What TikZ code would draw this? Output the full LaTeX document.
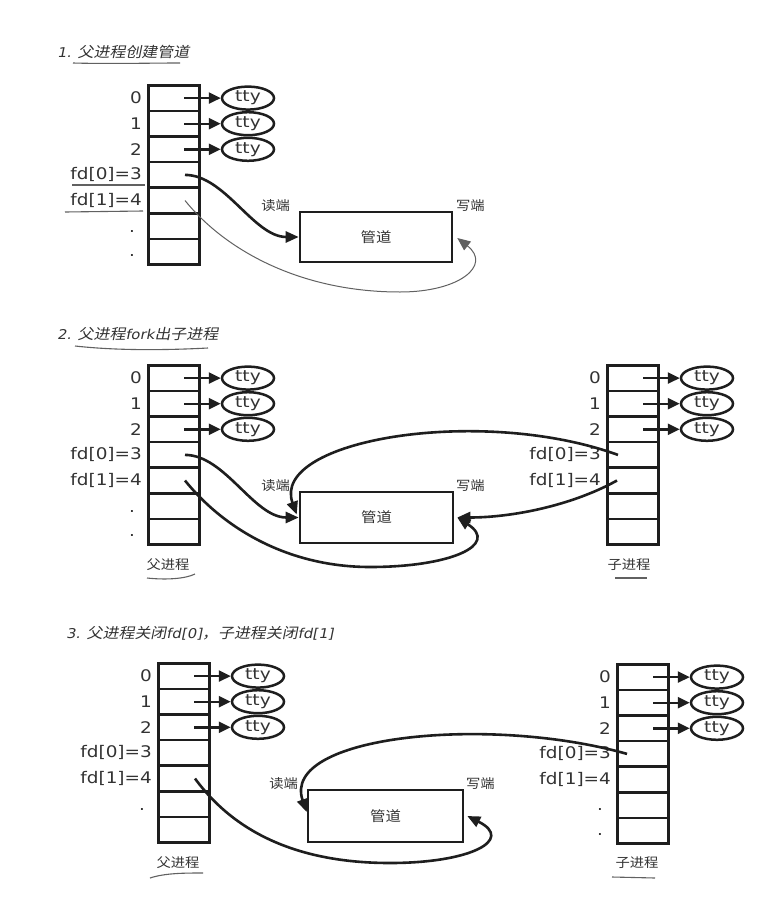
\documentclass[tikz,border=0pt]{standalone}
\usepackage{fontspec}
\usetikzlibrary{arrows.meta,shapes.geometric,calc}
\newfontfamily\labfont{DejaVu Sans}[FakeStretch=1.15]
\newfontfamily\ttyfont{DejaVu Sans}[FakeStretch=1.2]
\newfontfamily\titlefont{DejaVu Sans}[FakeStretch=1.1,FakeSlant=0.2]
\newfontfamily\cjkfont{Noto Sans CJK SC}[FakeStretch=1.1]
\newfontfamily\cjkitfont{Noto Sans CJK SC}[FakeStretch=1.1,FakeSlant=0.2]
\definecolor{ink}{HTML}{1E1E1E}
\definecolor{txt}{HTML}{333333}
\tikzset{
  cell/.style={draw=ink, line width=2.6pt, minimum width=51pt, minimum height=25.6pt, inner sep=0pt, anchor=north west},
  ttynode/.style={draw=ink, ellipse, line width=2.5pt, minimum width=52pt, minimum height=23pt, inner sep=0pt, font=\ttyfont\fontsize{15.5}{15.5}\selectfont, text=txt},
  lab/.style={anchor=east, inner sep=0pt, font=\labfont\fontsize{16}{16}\selectfont, text=txt},
  dotlab/.style={anchor=base, inner sep=0pt, font=\labfont\fontsize{16}{16}\selectfont, text=txt},
  pipebox/.style={draw=ink, line width=2.6pt, inner sep=0pt, font=\cjkfont\fontsize{14}{14}\selectfont, text=txt},
  cjklab/.style={font=\cjkfont\fontsize{13}{13}\selectfont, text=txt, inner sep=0pt},
  ttyarrow/.style={draw=ink, line width=2.4pt, -{Triangle[length=12pt,width=11pt]}},
  conn/.style={draw=ink, line width=2.6pt, -{Triangle[length=13pt,width=11pt]}},
  thinconn/.style={draw=ink!70, line width=1pt, -{Triangle[length=13pt,width=11pt]}},
  titlenode/.style={anchor=west, inner sep=0pt, text=txt},
  hand/.style={draw=ink!70, line width=1.1pt},
}
\newcommand\ttl{\titlefont\fontsize{13.5}{13.5}\selectfont}
\newcommand\ttlcjk{\cjkitfont\fontsize{14.5}{14.5}\selectfont}
% table with three tty entries: #1 name prefix, #2 left x, #3 top y
\newcommand\fdtab[3]{%
  \foreach \i in {0,...,6}{\node[cell] (#1\i) at (#2,{#3+25.6*\i}) {};}
  \foreach \i in {0,1,2}{%
    \node[ttynode] (#1t\i) at ($(#1\i.west)+(101,0)$) {tty};
    \draw[ttyarrow] ([xshift=37pt]#1\i.west) -- (#1t\i);
    \node[lab] (#1l\i) at ([xshift=-5pt]#1\i.west) {\i};
  }
  \node[lab] (#1l3) at ([xshift=-5pt]#13.west) {fd[0]=3};
  \node[lab] (#1l4) at ([xshift=-5pt]#14.west) {fd[1]=4};
}
\begin{document}
\begin{tikzpicture}[x=1pt,y=-1pt]
\useasboundingbox (0,0) rectangle (769,897);
\fill[white] (0,0) rectangle (769,897);

% ---------------- panel 1 ----------------
\node[titlenode] (t1) at (57,52) {{\ttl 1. }{\ttlcjk 父进程创建管道}};
\draw[hand] (73,63) .. controls (110,64) and (150,63) .. (180,63);
\fdtab{a}{147}{84}
\node[dotlab] (ad5) at ([shift={(-15,6)}]a5.west) {.};
\node[dotlab] (ad6) at ([shift={(-15,5)}]a6.west) {.};
\draw[hand] (72,185) -- (145,185);
\draw[hand] (65,212) -- (143,211);
\node[pipebox, minimum width=152pt, minimum height=50pt] (pipeA) at (376,237) {管道};
\node[cjklab] (rA) at ([shift={(-23,-5)}]pipeA.north west) {读端};
\node[cjklab] (wA) at ([shift={(17,-5)}]pipeA.north east) {写端};
\draw[conn] ([xshift=38pt]a3.west) .. controls +(40,0) and +(-45,0) .. (pipeA.west);
\draw[thinconn] ([xshift=38pt]a4.west) .. controls (225,250) and (300,292) .. (400,292)
   .. controls (460,292) and (492,265) .. ([shift={(4,1)}]pipeA.east);

% ---------------- panel 2 ----------------
\node[titlenode] (t2) at (57,334) {{\ttl 2. }{\ttlcjk 父进程}{\ttl fork}{\ttlcjk 出子进程}};
\draw[hand] (75,346) .. controls (120,351) and (170,350) .. (208,348);
\fdtab{b}{147}{364}
\node[dotlab] (bd5) at ([shift={(-15,6)}]b5.west) {.};
\node[dotlab] (bd6) at ([shift={(-15,5)}]b6.west) {.};
\fdtab{c}{606}{364}
\node[cjklab] (pb) at (168,565) {父进程};
\draw[hand] (147,578) .. controls (165,580) and (185,579) .. (195,574);
\node[cjklab] (pc) at (629,565) {子进程};
\draw[hand] (615,578) -- (647,578);
\node[pipebox, minimum width=153pt, minimum height=51pt] (pipeB) at (376.5,517.5) {管道};
\node[cjklab] (rB) at ([shift={(-23,-5)}]pipeB.north west) {读端};
\node[cjklab] (wB) at ([shift={(16,-5)}]pipeB.north east) {写端};
\draw[conn] ([xshift=38pt]b3.west) .. controls +(40,0) and +(-45,0) .. (pipeB.west);
\draw[conn] ([xshift=38pt]b4.west) .. controls (225,530) and (290,567) .. (370,567)
   .. controls (450,567) and (500,545) .. ([xshift=3pt]pipeB.east);
\draw[conn] ([xshift=12pt]c3.west) .. controls (480,405) and (270,440) .. ([shift={(-2,-3)}]pipeB.west);
\draw[conn] ([xshift=11pt]c4.west) .. controls +(-45,25) and +(55,0) .. ([xshift=3pt]pipeB.east);

% ---------------- panel 3 ----------------
\node[titlenode] (t3) at (66,633) {{\ttl 3. }{\ttlcjk 父进程关闭}{\ttl fd[0]}{\ttlcjk ，子进程关闭}{\ttl fd[1]}};
\fdtab{d}{157}{662}
\node[dotlab] (dd5) at ([shift={(-15,6)}]d5.west) {.};
\fdtab{e}{616}{663}
\node[dotlab] (ed5) at ([shift={(-16,5)}]e5.west) {.};
\node[dotlab] (ed6) at ([shift={(-16,5)}]e6.west) {.};
\node[cjklab] (pd) at (178,863) {父进程};
\draw[hand] (150,878) .. controls (165,873) and (185,873) .. (203,873);
\node[cjklab] (pe) at (637,863) {子进程};
\draw[hand] (612,877) -- (655,878);
\node[pipebox, minimum width=155pt, minimum height=52pt] (pipeC) at (385.5,816) {管道};
\node[cjklab] (rC) at ([shift={(-23,-5)}]pipeC.north west) {读端};
\node[cjklab] (wC) at ([shift={(16,-5)}]pipeC.north east) {写端};
\draw[conn] ([xshift=11pt]e3.west) .. controls (490,715) and (280,735) .. ([yshift=4pt]pipeC.west);
\draw[conn] ([xshift=38pt]d4.west) .. controls (240,840) and (310,863) .. (390,863)
   .. controls (470,863) and (515,840) .. ([xshift=3pt]pipeC.east);
\end{tikzpicture}
\end{document}
